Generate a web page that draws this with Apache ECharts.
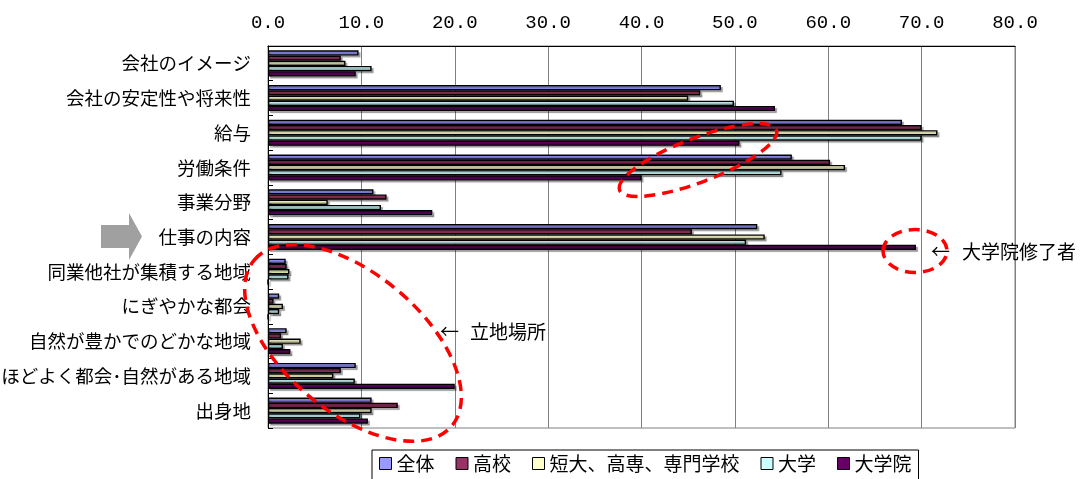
<!DOCTYPE html>
<html>
<head>
<meta charset="utf-8">
<script src="https://cdn.jsdelivr.net/npm/echarts@6/dist/echarts.min.js"></script>
<style>
  html, body { margin: 0; padding: 0; background: #fff; }
  #chart { width: 1082px; height: 479px; }
</style>
</head>
<body>
<div id="chart"></div>
<script>
// Reasons for choosing a workplace, by final education (%)
const categories = [
  '会社のイメージ',
  '会社の安定性や将来性',
  '給与',
  '労働条件',
  '事業分野',
  '仕事の内容',
  '同業他社が集積する地域',
  'にぎやかな都会',
  '自然が豊かでのどかな地域',
  'ほどよく都会･自然がある地域',
  '出身地'
];
const seriesNames = ['全体', '高校', '短大、高専、専門学校', '大学', '大学院'];
const zentai   = [9.7, 48.5, 67.9, 56.1, 11.3, 52.4, 1.9, 1.2, 2.0, 9.4, 11.1];
const koukou   = [7.8, 46.3, 70.0, 60.2, 12.7, 45.4, 2.0, 0.6, 1.4, 7.8, 13.9];
const tandai   = [8.3, 45.0, 71.7, 61.8, 6.4, 53.2, 2.3, 1.6, 3.5, 7.0, 11.1];
const daigaku  = [11.1, 49.9, 70.0, 55.0, 12.1, 51.2, 2.2, 1.2, 1.6, 9.3, 9.9];
const daigakuin = [9.4, 54.3, 50.5, 40.0, 17.6, 69.4, 0, 0, 2.4, 20.0, 10.7];
const xTicks = { min: 0, max: 80, interval: 10 };

const seriesData = [zentai, koukou, tandai, daigaku, daigakuin];
const colors = ['#9999FF', '#993366', '#FFFFCC', '#CCFFFF', '#660066'];

const jpFont = '"Noto Sans CJK JP", "Noto Sans", sans-serif';

const chart = echarts.init(document.getElementById('chart'), null, { renderer: 'canvas' });

const redDash = { stroke: '#FF0000', fill: 'none', lineWidth: 3.5, lineDash: [11, 7] };

chart.setOption({
  backgroundColor: '#ffffff',
  animation: false,
  grid: {
    left: 268, right: 67, top: 46, bottom: 51,
    containLabel: false,
    outerBoundsMode: 'none',
    show: true, borderColor: '#808080', borderWidth: 1
  },
  legend: {
    data: seriesNames,
    left: 372, top: 450,
    orient: 'horizontal',
    icon: 'rect',
    itemWidth: 12, itemHeight: 12, itemGap: 21,
    padding: [4, 7, 10, 7],
    borderColor: '#000', borderWidth: 1,
    textStyle: { fontFamily: jpFont, fontSize: 19, color: '#000' },
    itemStyle: { borderColor: '#000', borderWidth: 1, shadowBlur: 0, shadowOffsetX: 0, shadowOffsetY: 0 }
  },
  xAxis: {
    type: 'value',
    position: 'top',
    min: xTicks.min, max: xTicks.max, interval: xTicks.interval,
    axisLine: { show: true, lineStyle: { color: '#000', width: 1 } },
    axisTick: { show: false },
    splitLine: { show: true, lineStyle: { color: '#808080', width: 1 } },
    axisLabel: {
      fontFamily: '"Liberation Mono", "Courier New", monospace', fontSize: 19, color: '#000',
      margin: 14,
      formatter: v => v.toFixed(1)
    }
  },
  yAxis: {
    type: 'category',
    data: categories,
    inverse: true,
    axisLine: { show: true, lineStyle: { color: '#000', width: 1 } },
    axisTick: { show: true, inside: true, length: 5, lineStyle: { color: '#000' } },
    splitLine: { show: false },
    axisLabel: { fontFamily: jpFont, fontSize: 18.5, color: '#000', margin: 17 }
  },
  series: seriesNames.map((name, i) => ({
    name,
    type: 'bar',
    data: seriesData[i],
    barGap: '0%',
    barCategoryGap: '25%',
    itemStyle: {
      color: colors[i],
      borderColor: '#000',
      borderWidth: 1.4,
      shadowColor: 'rgba(0,0,0,0.3)',
      shadowOffsetX: 2,
      shadowOffsetY: 2,
      shadowBlur: 1
    }
  })),
  graphic: [
    // gray block arrow pointing at 仕事の内容
    {
      type: 'polygon', z: 100,
      shape: { points: [[101, 225], [129, 225], [129, 213], [142, 236.5], [129, 260], [129, 248], [101, 248]] },
      style: { fill: '#A0A0A0' }
    },
    // dashed ellipse over 給与 / 労働条件
    {
      type: 'ellipse', z: 100, x: 698, y: 160, rotation: 21 * Math.PI / 180,
      shape: { cx: 0, cy: 0, rx: 84, ry: 22 },
      style: redDash
    },
    // dashed circle at the end of the 大学院 bar for 仕事の内容
    {
      type: 'ellipse', z: 100, x: 915, y: 251,
      shape: { cx: 0, cy: 0, rx: 32, ry: 21.5 },
      style: redDash
    },
    // dashed ellipse around the location items
    {
      type: 'ellipse', z: 100, x: 353, y: 343, rotation: -40 * Math.PI / 180,
      shape: { cx: 0, cy: 0, rx: 129, ry: 69 },
      style: redDash
    },
    // notes
    {
      type: 'text', z: 100, x: 931, y: 252,
      style: { text: '←', font: '19px ' + jpFont, fill: '#000', verticalAlign: 'middle' }
    },
    {
      type: 'text', z: 100, x: 962, y: 252,
      style: { text: '大学院修了者', font: '19px ' + jpFont, fill: '#000', verticalAlign: 'middle' }
    },
    {
      type: 'text', z: 100, x: 440, y: 332,
      style: { text: '←', font: '19px ' + jpFont, fill: '#000', verticalAlign: 'middle' }
    },
    {
      type: 'text', z: 100, x: 470, y: 332,
      style: { text: '立地場所', font: '19px ' + jpFont, fill: '#000', verticalAlign: 'middle' }
    }
  ]
});
</script>
</body>
</html>
